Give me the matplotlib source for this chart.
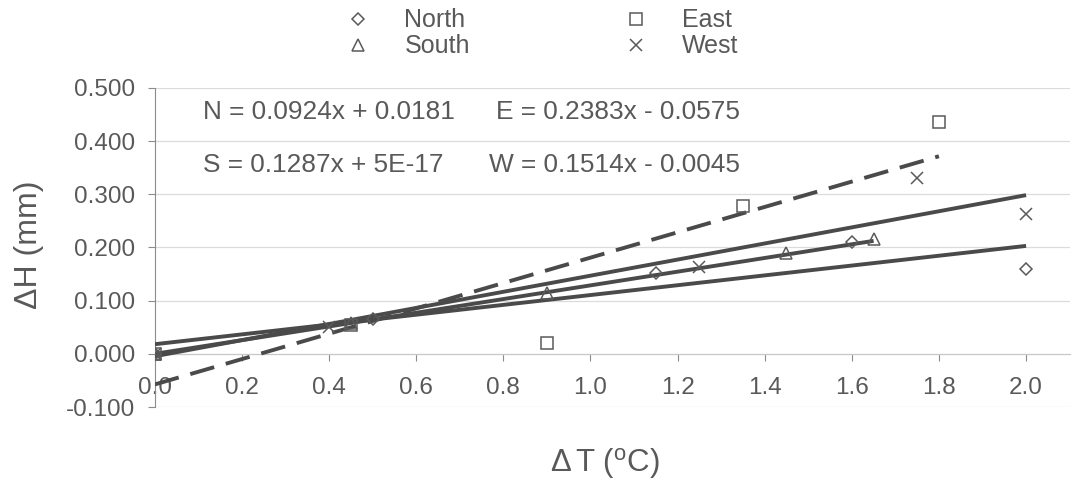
import numpy as np
import matplotlib
matplotlib.use("Agg")
import matplotlib.pyplot as plt

plt.rcParams['font.family'] = ['Liberation Sans', 'DejaVu Sans']
plt.rcParams['mathtext.fontset'] = 'custom'
plt.rcParams['mathtext.rm'] = 'Liberation Sans'
plt.rcParams['mathtext.it'] = 'Liberation Sans'

# readings (delta T in C, delta H in mm)
north_x = [0.0, 0.5, 1.15, 1.6, 2.0]
north_y = [0.0, 0.065, 0.152, 0.210, 0.160]
south_x = [0.0, 0.45, 0.9, 1.45, 1.65]
south_y = [0.0, 0.058, 0.115, 0.190, 0.215]
east_x = [0.0, 0.45, 0.9, 1.35, 1.8]
east_y = [0.0, 0.055, 0.020, 0.277, 0.435]
west_x = [0.0, 0.4, 1.25, 1.75, 2.0]
west_y = [0.0, 0.050, 0.163, 0.330, 0.262]

# trendline coefficients shown on the chart
north_fit = (0.0924, 0.0181)
south_fit = (0.1287, 5e-17)
east_fit = (0.2383, -0.0575)
west_fit = (0.1514, -0.0045)

gray_txt = '#595959'
gray_line = '#4a4a4a'
gray_mark = '#5a5a5a'

fig = plt.figure(figsize=(10.75, 4.8), dpi=100)
ax = fig.add_axes([0.144, 0.152, 0.851, 0.665])


def trend(xs, fit, dashed=False):
    xx = np.array([0.0, max(xs)])
    line, = ax.plot(xx, fit[0] * xx + fit[1], color=gray_line, lw=2.8,
                    solid_capstyle='butt', zorder=3)
    if dashed:
        line.set_dashes([6.4, 3.1])


trend(north_x, north_fit)
trend(south_x, south_fit)
trend(west_x, west_fit)
trend(east_x, east_fit, dashed=True)

mk = dict(linestyle='none', markerfacecolor='none', markeredgecolor=gray_mark,
          markeredgewidth=1.1, zorder=4)
ax.plot(north_x, north_y, marker='D', ms=6.5, label='North', **mk)
ax.plot(south_x, south_y, marker='^', ms=8, label='South', **mk)
ax.plot(east_x, east_y, marker='s', ms=8.5, label='East', **mk)
ax.plot(west_x, west_y, marker='x', ms=8.5, label='West', **mk)

ax.set_xlim(0, 2.1)
ax.set_ylim(-0.1, 0.5)
ax.set_xticks(np.arange(0, 2.01, 0.2))
ax.set_xticklabels(['%.1f' % v for v in np.arange(0, 2.01, 0.2)])
ax.set_yticks(np.arange(-0.1, 0.51, 0.1))
ax.set_yticklabels(['%.3f' % v for v in np.arange(-0.1, 0.51, 0.1)])
ax.yaxis.grid(True, color='#dcdcdc', lw=0.9)
ax.set_axisbelow(True)

for s in ['top', 'right']:
    ax.spines[s].set_visible(False)
ax.spines['left'].set_color('#8c8c8c')
ax.spines['bottom'].set_position(('data', 0))
ax.spines['bottom'].set_color('#c8c8c8')
ax.tick_params(axis='y', colors='#8c8c8c', labelcolor=gray_txt, labelsize=17.5,
               length=5, pad=9)
ax.tick_params(axis='x', colors='#8c8c8c', labelcolor=gray_txt, labelsize=17.5,
               length=5, pad=12)

fig.text(0.027, 0.49, 'ΔH (mm)', fontsize=23, color=gray_txt, rotation=90,
         ha='center', va='center')
fig.text(0.563, 0.035, r'$\Delta\,$T ($^{\mathrm{o}}$C)', fontsize=22.5,
         color=gray_txt, ha='center', va='center')

eq = dict(fontsize=18.9, color=gray_txt, va='center')
ax.text(0.11, 0.455, 'N = 0.0924x + 0.0181', **eq)
ax.text(0.783, 0.455, 'E = 0.2383x - 0.0575', **eq)
ax.text(0.11, 0.355, 'S = 0.1287x + 5E-17', **eq)
ax.text(0.767, 0.355, 'W = 0.1514x - 0.0045', **eq)

leg = fig.legend(loc='upper center', bbox_to_anchor=(0.5042, 1.019), ncol=2,
                 frameon=False, fontsize=18, handlelength=1.0,
                 handletextpad=1.34, columnspacing=6.14, labelspacing=0.08,
                 markerscale=1.0, borderpad=0.2)
for t in leg.get_texts():
    t.set_color(gray_txt)

fig.savefig('out.png', dpi=100)
